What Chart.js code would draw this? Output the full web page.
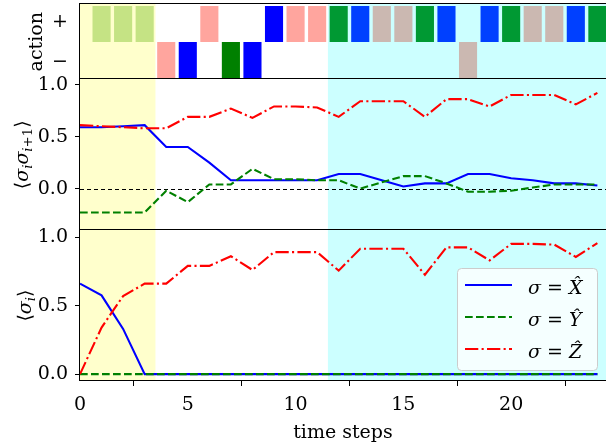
<!DOCTYPE html>
<html>
<head>
<meta charset="utf-8">
<script src="https://cdn.jsdelivr.net/npm/chart.js@4.4.1/dist/chart.umd.min.js"></script>
<style>
  html, body { margin: 0; padding: 0; background: #fff; }
  canvas { display: block; }
</style>
</head>
<body>
<canvas id="chart" width="606" height="446"></canvas>
<script>
// time axis
const steps = [0, 1, 2, 3, 4, 5, 6, 7, 8, 9, 10, 11, 12, 13, 14, 15, 16, 17, 18, 19, 20, 21, 22, 23, 24];

// nearest-neighbour correlations <s_i s_i+1>
const corrX = [0.59, 0.59, 0.60, 0.61, 0.40, 0.40, 0.25, 0.08, 0.08, 0.08, 0.08, 0.08, 0.14, 0.14, 0.08, 0.02, 0.05, 0.05, 0.14, 0.14, 0.10, 0.08, 0.05, 0.05, 0.03];
const corrY = [-0.23, -0.23, -0.23, -0.23, -0.02, -0.13, 0.04, 0.04, 0.19, 0.09, 0.09, 0.08, 0.08, 0.00, 0.06, 0.12, 0.12, 0.05, -0.03, -0.03, -0.02, 0.01, 0.04, 0.04, 0.04];
const corrZ = [0.61, 0.60, 0.59, 0.58, 0.58, 0.69, 0.69, 0.77, 0.68, 0.79, 0.79, 0.78, 0.69, 0.84, 0.84, 0.84, 0.69, 0.86, 0.86, 0.79, 0.90, 0.90, 0.90, 0.81, 0.92];

// single-site magnetisation <s_i>
const magX = [0.66, 0.575, 0.33, 0, 0, 0, 0, 0, 0, 0, 0, 0, 0, 0, 0, 0, 0, 0, 0, 0, 0, 0, 0, 0, 0];
const magY = [0, 0, 0, 0, 0, 0, 0, 0, 0, 0, 0, 0, 0, 0, 0, 0, 0, 0, 0, 0, 0, 0, 0, 0, 0];
const magZ = [0, 0.34, 0.57, 0.66, 0.66, 0.79, 0.79, 0.86, 0.76, 0.89, 0.89, 0.89, 0.755, 0.915, 0.915, 0.915, 0.725, 0.925, 0.925, 0.83, 0.95, 0.95, 0.945, 0.855, 0.955];

// actions taken at each step
const actionSteps = [1, 2, 3, 4, 5, 6, 7, 8, 9, 10, 11, 12, 13, 14, 15, 16, 17, 18, 19, 20, 21, 22, 23, 24];
const actionSign = ['+', '+', '+', '−', '−', '+', '−', '−', '+', '+', '+', '+', '+', '+', '+', '+', '+', '−', '+', '+', '+', '+', '+', '+'];
const actionGate = ['a', 'a', 'a', 'b', 'c', 'b', 'd', 'c', 'c', 'b', 'b', 'd', 'c', 'e', 'e', 'd', 'c', 'e', 'c', 'd', 'e', 'e', 'c', 'd'];

// protocol phases (shaded)
const phaseFrom = [0, 11.5];
const phaseTo = [3.5, 24.4];

// ticks
const timeTicks = [0, 5, 10, 15, 20];
const valueTicks = [0, 0.5, 1.0];
const actionTicks = [0.5, -0.5];
const actionTickLabels = ['+', '−'];

const FONT = '"DejaVu Serif"';
const BAR_H = 0.9;
const phaseFill = ['#ffffcc', '#ccffff'];
const gateColor = { a: '#c5e384', b: '#ffa59e', c: '#0000ff', d: '#008000', e: '#cbb8b1' };
const gateColorLate = { c: '#0040ff', d: '#009933' };

function barColor(ctx) {
  const i = ctx.dataIndex;
  const g = actionGate[i];
  if (actionSteps[i] > phaseFrom[1] && gateColorLate[g]) return gateColorLate[g];
  return gateColor[g];
}

// tiny math-text renderer: letters italic, "_x" / "_{..}" subscripts
function mathRuns(src) {
  const runs = [];
  let i = 0;
  while (i < src.length) {
    const ch = src[i];
    if (ch === '_') {
      i++;
      let grp;
      if (src[i] === '{') { const j = src.indexOf('}', i); grp = src.slice(i + 1, j); i = j + 1; }
      else { grp = src[i]; i++; }
      for (const c of grp) runs.push({ t: c, sub: true, it: /\p{L}/u.test(c) });
      continue;
    }
    let t = ch; i++;
    while (i < src.length && /\p{M}/u.test(src[i])) { t += src[i]; i++; }
    runs.push({ t, sub: false, it: /\p{L}/u.test(ch) });
  }
  return runs;
}

function drawMath(ctx, src, x, y, size, align) {
  const runs = mathRuns(src).map(r => {
    const fs = r.sub ? size * 0.7 : size;
    r.font = (r.it ? 'italic ' : '') + fs + 'px ' + FONT;
    ctx.font = r.font;
    r.w = ctx.measureText(r.t).width;
    return r;
  });
  const total = runs.reduce((s, r) => s + r.w, 0);
  let cx = align === 'center' ? x - total / 2 : x;
  ctx.textAlign = 'left';
  ctx.textBaseline = 'alphabetic';
  runs.forEach(r => {
    ctx.font = r.font;
    ctx.fillText(r.t, cx, r.sub ? y + size * 0.22 : y);
    cx += r.w;
  });
}

function rotatedLabel(ctx, text, x, y, math) {
  ctx.save();
  ctx.translate(x, y);
  ctx.rotate(-Math.PI / 2);
  ctx.fillStyle = '#000';
  if (math) {
    drawMath(ctx, text, 0, 0, 19, 'center');
  } else {
    ctx.font = '19px ' + FONT;
    ctx.textAlign = 'center';
    ctx.textBaseline = 'alphabetic';
    ctx.fillText(text, 0, 0);
  }
  ctx.restore();
}

const decor = {
  id: 'decor',
  beforeDatasetsDraw(chart) {
    const { ctx, chartArea: a, scales } = chart;
    ctx.save();
    phaseFrom.forEach((from, i) => {
      const x0 = scales.x.getPixelForValue(from);
      const x1 = scales.x.getPixelForValue(phaseTo[i]);
      ctx.fillStyle = phaseFill[i];
      ctx.fillRect(x0, a.top, x1 - x0, a.bottom - a.top);
    });
    // dashed zero line in the correlation panel
    const y0 = Math.round(scales.yCorr.getPixelForValue(0)) + 0.5;
    ctx.strokeStyle = '#000';
    ctx.lineWidth = 1;
    ctx.setLineDash([4, 3]);
    ctx.beginPath();
    ctx.moveTo(a.left, y0);
    ctx.lineTo(a.right, y0);
    ctx.stroke();
    ctx.restore();
  },
  afterDatasetsDraw(chart) {
    const { ctx, chartArea: a, scales } = chart;
    ctx.save();
    ctx.strokeStyle = '#000';
    ctx.lineWidth = 1;
    ['yAction', 'yCorr', 'yMag'].forEach(id => {
      const s = scales[id];
      ctx.strokeRect(a.left - 0.5, Math.round(s.top) - 0.5, a.right - a.left + 1, Math.round(s.bottom - s.top));
    });
    ctx.restore();
  },
  afterDraw(chart) {
    const { ctx, chartArea: a, scales } = chart;
    ctx.save();
    // axis titles
    rotatedLabel(ctx, 'action', 41.5, (scales.yAction.top + scales.yAction.bottom) / 2, false);
    rotatedLabel(ctx, '⟨σ_iσ_{i+1}⟩', 28, (scales.yCorr.top + scales.yCorr.bottom) / 2, true);
    rotatedLabel(ctx, '⟨σ_i⟩', 31, (scales.yMag.top + scales.yMag.bottom) / 2, true);
    ctx.fillStyle = '#000';
    ctx.font = '19px ' + FONT;
    ctx.textAlign = 'center';
    ctx.textBaseline = 'alphabetic';
    ctx.fillText('time steps', (a.left + a.right) / 2, 438);

    // legend, lower right of the magnetisation panel
    const lw = 140, lh = 102;
    const lx = a.right - 149, ly = scales.yMag.bottom - 113;
    ctx.beginPath();
    ctx.roundRect(lx + 0.5, ly + 0.5, lw, lh, 4);
    ctx.fillStyle = 'rgba(255,255,255,0.8)';
    ctx.fill();
    ctx.strokeStyle = '#cccccc';
    ctx.lineWidth = 1;
    ctx.stroke();
    chart.data.datasets.filter(d => d.yAxisID === 'yMag').forEach((d, i) => {
      const y = ly + 17 + i * 32;
      ctx.strokeStyle = d.borderColor;
      ctx.lineWidth = d.borderWidth;
      ctx.setLineDash(d.borderDash || []);
      ctx.beginPath();
      ctx.moveTo(lx + 8, y);
      ctx.lineTo(lx + 55, y);
      ctx.stroke();
      ctx.setLineDash([]);
      ctx.fillStyle = '#000';
      drawMath(ctx, d.label, lx + 71, y + 8.5, 19, 'left');
    });
    ctx.restore();
  }
};

const pts = ys => steps.map((t, i) => ({ x: t, y: ys[i] }));
const lineStyle = {
  X: { borderColor: '#0000ff', borderDash: [], order: 3 },
  Y: { borderColor: '#008000', borderDash: [7.7, 3.3], order: 2 },
  Z: { borderColor: '#ff0000', borderDash: [13.3, 3.3, 2.1, 3.3], order: 1 }
};
function series(label, ys, axis, key) {
  return Object.assign({
    type: 'line', label, data: pts(ys), yAxisID: axis, xAxisID: 'x',
    borderWidth: 2.1, pointRadius: 0, tension: 0, fill: false
  }, lineStyle[key]);
}

// no extra label overhang around the plot area
function noPadding(s) {
  s.paddingTop = 0; s.paddingBottom = 0; s.paddingLeft = 0; s.paddingRight = 0;
}

const tickFont = { family: FONT, size: 19 };
const yBase = {
  stack: 'panels',
  grid: { drawOnChartArea: false, drawTicks: true, tickLength: 5, tickColor: '#000', tickWidth: 1 },
  border: { display: false },
  ticks: { font: tickFont, color: '#000', padding: 7, callback: v => v.toFixed(1) },
  afterFit: s => { s.width = 80; noPadding(s); }
};

new Chart(document.getElementById('chart'), {
  type: 'line',
  data: {
    datasets: [
      {
        type: 'bar', label: 'action', yAxisID: 'yAction', xAxisID: 'x',
        data: actionSteps.map((t, i) => ({ x: t, y: actionSign[i] === '+' ? [0, BAR_H] : [-BAR_H, 0] })),
        backgroundColor: barColor, borderWidth: 0,
        categoryPercentage: 1, barPercentage: 0.84
      },
      series('σ = X̂', corrX, 'yCorr', 'X'),
      series('σ = Ŷ', corrY, 'yCorr', 'Y'),
      series('σ = Ẑ', corrZ, 'yCorr', 'Z'),
      series('σ = X̂', magX, 'yMag', 'X'),
      series('σ = Ŷ', magY, 'yMag', 'Y'),
      series('σ = Ẑ', magZ, 'yMag', 'Z')
    ]
  },
  options: {
    responsive: false,
    animation: false,
    layout: { padding: { top: 4, left: 0, right: 0, bottom: 0 } },
    plugins: { legend: { display: false }, tooltip: { enabled: false } },
    scales: {
      x: {
        type: 'linear', min: 0, max: 24.4, offset: false,
        grid: { drawOnChartArea: false, drawTicks: true, tickLength: 5, tickColor: '#000', tickWidth: 1 },
        border: { display: false },
        ticks: { font: tickFont, color: '#000', padding: 8, maxRotation: 0 },
        afterBuildTicks: s => { s.ticks = timeTicks.map(v => ({ value: v })); },
        afterFit: s => { s.height = 65; noPadding(s); }
      },
      // stacked bottom-up: last defined sits on top
      yMag: Object.assign({}, yBase, {
        type: 'linear', stackWeight: 2, min: -0.05, max: 1.05,
        afterBuildTicks: s => { s.ticks = valueTicks.map(v => ({ value: v })); }
      }),
      yCorr: Object.assign({}, yBase, {
        type: 'linear', stackWeight: 2, min: -0.4, max: 1.05,
        afterBuildTicks: s => { s.ticks = valueTicks.map(v => ({ value: v })); }
      }),
      yAction: Object.assign({}, yBase, {
        type: 'linear', stackWeight: 1, min: -0.93, max: 0.95,
        grid: { drawOnChartArea: false, drawTicks: true, tickLength: 5, tickColor: 'rgba(0,0,0,0)' },
        ticks: { font: tickFont, color: '#000', padding: 7,
          callback: v => actionTickLabels[actionTicks.indexOf(v)] },
        afterBuildTicks: s => { s.ticks = actionTicks.map(v => ({ value: v })); }
      })
    }
  },
  plugins: [decor]
});
</script>
</body>
</html>
